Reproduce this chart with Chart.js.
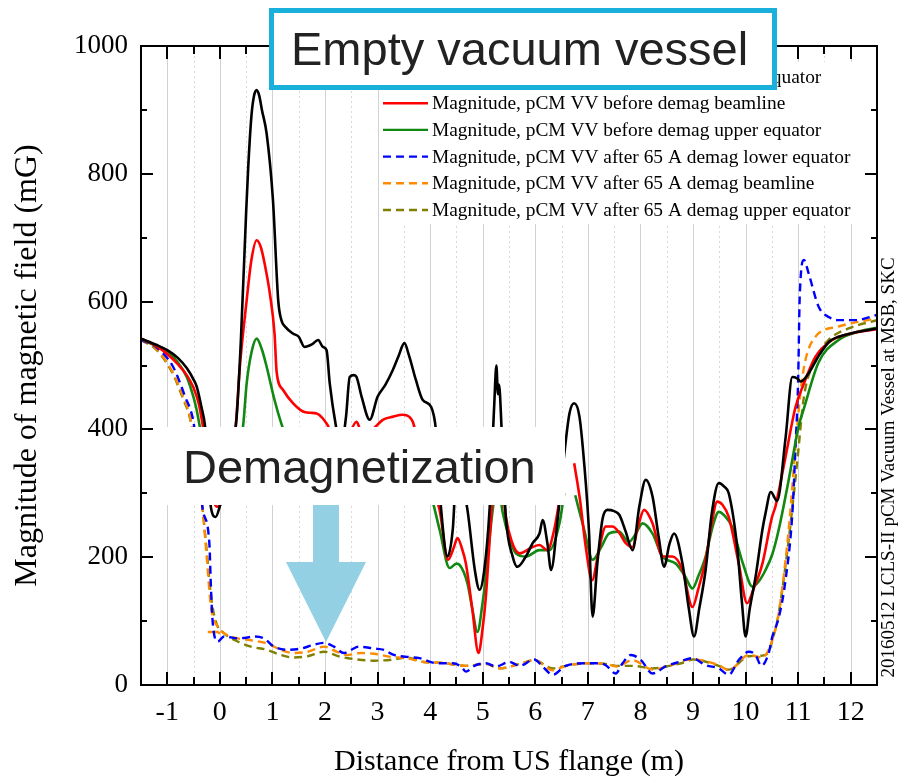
<!DOCTYPE html>
<html>
<head>
<meta charset="utf-8">
<title>pCM vacuum vessel magnetic field</title>
<script src="https://cdn.jsdelivr.net/npm/chart.js@4.4.1/dist/chart.umd.min.js"></script>
<style>
  html, body { margin: 0; padding: 0; background: #fff; }
  #wrap { position: relative; width: 899px; height: 781px; }
</style>
</head>
<body>
<div id="wrap"><canvas id="c" width="899" height="781"></canvas></div>
<script>
// ---- axis ticks ----
const xTickValues = [-1, 0, 1, 2, 3, 4, 5, 6, 7, 8, 9, 10, 11, 12];
const yTickValues = [0, 200, 400, 600, 800, 1000];

// ---- series labels ----
const seriesLabels = [
  'Magnitude, pCM VV before demag lower equator',
  'Magnitude, pCM VV before demag beamline',
  'Magnitude, pCM VV before demag upper equator',
  'Magnitude, pCM VV after 65 A demag lower equator',
  'Magnitude, pCM VV after 65 A demag beamline',
  'Magnitude, pCM VV after 65 A demag upper equator'
];

// ---- before demag, lower equator (m, mG) ----
const lowerBeforeX = [-1.5, -1.2, -1.0, -0.8, -0.63, -0.5, -0.44, -0.35, -0.28, -0.22, -0.17, -0.08, 0.0, 0.15, 0.25,
  0.32, 0.4, 0.5, 0.54, 0.6, 0.65, 0.7, 0.75, 0.8, 0.89, 1.01, 1.11, 1.17, 1.25, 1.39, 1.5, 1.61, 1.75, 1.87, 1.96,
  2.03, 2.09, 2.21, 2.3, 2.4, 2.47, 2.55, 2.6, 2.7, 2.85, 3.0, 3.15, 3.29, 3.4, 3.51, 3.6, 3.73, 3.86, 4.02, 4.11,
  4.21, 4.33, 4.43, 4.5, 4.6, 4.71, 4.85, 4.94, 5.03, 5.13, 5.22, 5.26, 5.29, 5.31, 5.36, 5.44, 5.57, 5.66,
  5.82, 5.95, 6.08, 6.14, 6.23, 6.3, 6.43, 6.55, 6.65, 6.74, 6.84, 6.93, 7.02, 7.09, 7.18, 7.28, 7.37, 7.5, 7.6,
  7.72, 7.85, 7.98, 8.1, 8.23, 8.35, 8.45, 8.55, 8.64, 8.8, 8.92, 9.02, 9.12, 9.24, 9.36, 9.49, 9.6, 9.68, 9.84,
  9.93, 10.0, 10.08, 10.19, 10.32, 10.38, 10.48, 10.6, 10.76, 10.89, 10.98, 11.05, 11.2, 11.39, 11.6, 11.77, 12.1, 12.5];
const lowerBeforeY = [542, 532, 524, 512, 496, 478, 467, 435, 404, 340, 278, 263, 280, 330, 370,
  420, 540, 740, 811, 890, 922, 931, 922, 900, 863, 759, 602, 571, 560, 550, 545, 529, 533, 540, 529,
  524, 472, 404, 370, 420, 482, 485, 482, 450, 415, 451, 470, 493, 515, 535, 515, 477, 446, 435, 399,
  274, 201, 243, 330, 320, 274, 180, 149, 180, 274, 440, 500, 455, 470, 400, 263, 201, 185,
  201, 222, 237, 258, 222, 180, 263, 360, 425, 441, 420, 347, 243, 107, 190, 260, 274, 272, 266,
  240, 211, 280, 321, 295, 230, 185, 220, 237, 190, 120, 76, 120, 180, 270, 316, 310, 300, 216,
  130, 76, 120, 169, 243, 269, 302, 288, 386, 482, 480, 475, 488, 515, 538, 545, 552, 558];

// ---- before demag, beamline ----
const beamBeforeX = [-1.5, -1.2, -1.0, -0.8, -0.63, -0.5, -0.4, -0.32, -0.2, -0.1, -0.05, 0.02, 0.15, 0.3, 0.38,
  0.51, 0.6, 0.7, 0.78, 0.85, 0.95, 1.04, 1.08, 1.2, 1.39, 1.58, 1.72, 1.84, 1.96, 2.09, 2.2, 2.4, 2.6, 2.7, 2.9,
  3.1, 3.3, 3.48, 3.6, 3.67, 3.8, 4.0, 4.18, 4.34, 4.45, 4.52, 4.6, 4.68, 4.8, 4.92, 5.0, 5.06, 5.16, 5.25, 5.35,
  5.44, 5.55, 5.7, 5.95, 6.08, 6.23, 6.36, 6.5, 6.62, 6.74, 6.85, 6.96, 7.08, 7.21, 7.34, 7.47, 7.6, 7.72, 7.85,
  7.96, 8.07, 8.23, 8.42, 8.61, 8.8, 8.99, 9.1, 9.24, 9.35, 9.46, 9.56, 9.68, 9.87, 10.03, 10.15, 10.32, 10.5,
  10.57, 10.76, 10.95, 11.1, 11.33, 11.65, 12.0, 12.5];
const beamBeforeY = [542, 530, 518, 502, 485, 465, 440, 404, 340, 285, 279, 284, 330, 404, 498,
  602, 665, 696, 685, 660, 613, 550, 490, 462, 441, 428, 426, 425, 417, 400, 370, 380, 412, 395, 400,
  415, 420, 423, 420, 412, 370, 320, 274, 196, 215, 230, 215, 190, 120, 50, 90, 138, 263, 360, 330,
  263, 225, 206, 216, 219, 211, 243, 310, null, 347, 290, 216, 164, 211, 248, 248, 238, 222, 216,
  250, 274, 253, 201, 201, 180, 122, 150, 196, 250, 287, 282, 263, 190, 128, 150, 190, 262,
  280, 357, 435, 470, 514, 540, 550, 557];

// ---- before demag, upper equator ----
const upperBeforeX = [-1.5, -1.2, -1.08, -0.8, -0.63, -0.5, -0.44, -0.38, -0.2, 0.0, 0.2, 0.35, 0.44, 0.51, 0.6,
  0.7, 0.8, 0.89, 1.04, 1.17, 1.3, 1.6, 1.9, 2.2, 2.5, 2.8, 3.2, 3.5, 3.8, 4.0, 4.18, 4.37, 4.5, 4.56, 4.71, 4.8,
  4.9, 5.0, 5.03, 5.19, 5.28, 5.38, 5.5, 5.63, 5.82, 6.08, 6.27, 6.46, 6.55, 6.65, 6.76, 6.93, 7.09, 7.25, 7.4,
  7.59, 7.78, 7.9, 8.04, 8.23, 8.42, 8.67, 8.85, 8.99, 9.1, 9.24, 9.38, 9.49, 9.6, 9.74, 9.95, 10.13, 10.25,
  10.38, 10.51, 10.63, 10.82, 11.01, 11.1, 11.39, 11.77, 12.1, 12.5];
const upperBeforeY = [542, 530, 527, 505, 482, 450, 430, 404, 330, 300, 340, 380, 404, 472, 520,
  542, 525, 498, 446, 409, 380, 360, 350, 320, 330, 320, 340, 345, 320, 300, 243, 183, 190, 188, 159, 120,
  83, 130, 149, 274, 320, 270, 232, 206, 201, 211, 211, 253, 300, null, 297, 243, 196, 215, 237,
  240, 224, 235, 253, 237, 201, 190, 170, 151, 170, 201, 250, 271, 265, 248, 190, 154, 162,
  180, 205, 243, 321, 405, 430, 505, 540, 552, 559];

// ---- after 65 A demag, lower equator ----
const lowerAfterX = [-1.5, -1.2, -0.89, -0.66, -0.51, -0.42, -0.33, -0.2, -0.17, -0.14, -0.04, 0.08, 0.34, 0.5,
  0.65, 0.84, 1.03, 1.29, 1.54, 1.79, 1.98, 2.17, 2.36, 2.5, 2.64, 2.93, 3.12, 3.31, 3.56, 3.8, 4.13, 4.43, 4.6,
  4.68, 4.84, 5.06, 5.25, 5.51, 5.7, 5.98, 6.14, 6.33, 6.58, 6.96, 7.21, 7.34, 7.53, 7.66, 7.82, 8.01, 8.23,
  8.48, 8.73, 8.99, 9.24, 9.49, 9.68, 9.87, 10.06, 10.19, 10.3, 10.44, 10.51, 10.63, 10.76, 10.89, 10.95, 11.0,
  11.03, 11.11, 11.2, 11.39, 11.6, 11.77, 12.09, 12.5];
const lowerAfterY = [540, 528, 498, 451, 415, 360, 277, 222, 154, 102, 68, 76, 73, 74,
  76, 73, 60, 55, 57, 63, 66, 60, 50, 55, 60, 57, 55, 47, 44, 42, 34, 34, 28,
  21, 30, 34, 29, 36, 30, 40, 29, 16, 30, 34, 34, 31, 18, 34, 47, 39, 18,
  29, 36, 42, 31, 26, 16, 39, 52, 47, 30, 50, 76, 105, 164, 269, 373, 477,
  608, 665, 644, 592, 575, 571, 571, 579];

// ---- after 65 A demag, beamline ----
const beamAfterX = [-1.5, -1.2, -0.9, -0.7, -0.57, -0.45, -0.33, -0.25, -0.17, -0.04, 0.08, 0.34, 0.59, 0.9, 1.16,
  1.41, 1.67, 1.98, 2.23, 2.42, 2.68, 2.93, 3.25, 3.56, 3.88, 4.18, 4.68, 5.06, 5.32, 5.7, 5.98, 6.33, 6.58, 6.96,
  7.34, 7.55, 7.85, 8.23, 8.55, 8.86, 8.99, 9.49, 9.68, 10.06, 10.32, 10.44, 10.51, 10.63, 10.82, 10.95, 11.05,
  11.14, 11.33, 11.77, 12.5];
const beamAfterY = [540, 525, 490, 451, 420, 360, 277, 200, 123, 91, 81, 73, 70, 65, 55,
  50, 52, 60, 52, 47, 50, 49, 44, 42, 36, 35, 30, 33, 26, 33, 39, 23, 30, 34,
  33, 29, 39, 24, 30, 39, 40, 31, 23, 47, 43, 55, 71, 112, 243, 373, 462,
  509, 545, 561, 574];
// short separate beamline trace near the flange
const beamAfterStubX = [-0.23, -0.04, 0.0];
const beamAfterStubY = [83, 83, 80];

// ---- after 65 A demag, upper equator ----
const upperAfterX = [-1.5, -1.2, -0.9, -0.7, -0.57, -0.45, -0.33, -0.25, -0.17, -0.08, 0.08, 0.34, 0.59, 0.9, 1.16,
  1.41, 1.67, 1.98, 2.3, 2.61, 2.93, 3.31, 3.56, 3.88, 4.18, 4.68, 5.06, 5.32, 5.7, 5.98, 6.33, 6.58, 6.96, 7.34,
  7.55, 7.85, 8.23, 8.55, 8.86, 8.99, 9.49, 9.68, 10.06, 10.32, 10.44, 10.51, 10.63, 10.82, 10.98, 11.11, 11.33,
  11.58, 11.96, 12.5];
const upperAfterY = [540, 524, 488, 448, 418, 360, 277, 210, 140, 100, 81, 68, 60, 55, 47,
  43, 45, 52, 44, 40, 38, 40, 43, 36, 35, 30, 33, 26, 33, 39, 26, 30, 34, 33,
  30, 30, 26, 30, 36, 40, 30, 24, 45, 46, 52, 70, 112, 227, 347, 451, 509,
  540, 558, 571];

const pts = (xs, ys) => xs.map((x, i) => ({ x: x, y: ys[i] }));

const SERIF = '"Liberation Serif", "Times New Roman", serif';
const SANS = '"Liberation Sans", Arial, sans-serif';
const DASH = [8, 5];

function line(label, xs, ys, color, dash, width) {
  return {
    label: label,
    data: pts(xs, ys),
    borderColor: color,
    backgroundColor: color,
    borderWidth: width,
    borderDash: dash,
    pointRadius: 0,
    pointHoverRadius: 0,
    fill: false,
    spanGaps: false,
    cubicInterpolationMode: 'monotone'
  };
}

const datasets = [
  line(seriesLabels[0], lowerBeforeX, lowerBeforeY, '#000000', [], 2.6),
  line(seriesLabels[1], beamBeforeX, beamBeforeY, '#ff0000', [], 2.6),
  line(seriesLabels[2], upperBeforeX, upperBeforeY, '#118811', [], 2.6),
  line(seriesLabels[3], lowerAfterX, lowerAfterY, '#0000ff', DASH, 2.4),
  line(seriesLabels[4], beamAfterX, beamAfterY, '#ff8c00', DASH, 2.4),
  line(seriesLabels[5], upperAfterX, upperAfterY, '#808000', DASH, 2.4)
];
const stub = line('', beamAfterStubX, beamAfterStubY, '#ff8c00', [], 2.4);
stub.cubicInterpolationMode = 'default';
stub.tension = 0;
stub.inLegend = false;
datasets.push(stub);

// grid, frame, inner ticks, legend, side note and callouts
const decor = {
  id: 'decor',
  beforeDatasetsDraw(chart) {
    const { ctx, chartArea: a, scales: { x } } = chart;
    ctx.save();
    ctx.lineWidth = 1;
    for (let v = -1; v <= 12.01; v += 0.5) {
      const px = Math.round(x.getPixelForValue(v)) + 0.5;
      const whole = Math.abs(v - Math.round(v)) < 1e-6;
      ctx.strokeStyle = whole ? '#d2d2d2' : '#d8d8d8';
      ctx.setLineDash(whole ? [] : [2, 3]);
      ctx.beginPath();
      ctx.moveTo(px, a.top);
      ctx.lineTo(px, a.bottom);
      ctx.stroke();
    }
    ctx.restore();
  },
  afterDraw(chart) {
    const { ctx, chartArea: a, scales: { x, y } } = chart;
    ctx.save();

    // legend
    ctx.fillStyle = '#ffffff';
    ctx.fillRect(380, 62, 490, 162);
    let row = 0;
    chart.data.datasets.forEach((ds) => {
      if (ds.inLegend === false) return;
      const ly = 76.5 + row * 26.7;
      ctx.strokeStyle = ds.borderColor;
      ctx.lineWidth = 2.4;
      ctx.setLineDash(ds.borderDash || []);
      ctx.beginPath();
      ctx.moveTo(383, ly);
      ctx.lineTo(428, ly);
      ctx.stroke();
      ctx.setLineDash([]);
      ctx.fillStyle = '#000';
      ctx.font = '19.4px ' + SERIF;
      ctx.textAlign = 'left';
      ctx.textBaseline = 'middle';
      ctx.fillText(ds.label, 432, ly + 1);
      row++;
    });

    // frame
    ctx.setLineDash([]);
    ctx.strokeStyle = '#000';
    ctx.lineWidth = 2;
    ctx.strokeRect(a.left, a.top, a.right - a.left, a.bottom - a.top);

    // inward ticks on all four sides
    ctx.lineWidth = 2;
    for (let v = -1; v <= 12.01; v += 0.5) {
      const px = Math.round(x.getPixelForValue(v));
      const whole = Math.abs(v - Math.round(v)) < 1e-6;
      const len = whole ? 13 : 8;
      ctx.beginPath();
      ctx.moveTo(px, a.bottom); ctx.lineTo(px, a.bottom - len);
      ctx.moveTo(px, a.top); ctx.lineTo(px, a.top + len);
      ctx.stroke();
    }
    for (let v = 100; v < 1000; v += 100) {
      const py = Math.round(y.getPixelForValue(v));
      const len = v % 200 === 0 ? 12 : 6;
      ctx.beginPath();
      ctx.moveTo(a.left, py); ctx.lineTo(a.left + len, py);
      ctx.moveTo(a.right, py); ctx.lineTo(a.right - len, py);
      ctx.stroke();
    }

    // side note
    ctx.save();
    ctx.translate(889, (a.top + a.bottom) / 2 + 102);
    ctx.rotate(-Math.PI / 2);
    ctx.fillStyle = '#000';
    ctx.font = '19px ' + SERIF;
    ctx.textAlign = 'center';
    ctx.textBaseline = 'middle';
    ctx.fillText('20160512 LCLS-II pCM Vacuum Vessel at MSB, SKC', 0, 0);
    ctx.restore();

    // "Empty vacuum vessel" callout
    ctx.fillStyle = '#ffffff';
    ctx.fillRect(271, 10, 504, 78);
    ctx.strokeStyle = '#19b0dc';
    ctx.lineWidth = 5;
    ctx.strokeRect(271.5, 10.5, 503, 77);
    ctx.fillStyle = '#222222';
    ctx.font = '47px ' + SANS;
    ctx.textAlign = 'left';
    ctx.textBaseline = 'alphabetic';
    ctx.fillText('Empty vacuum vessel', 291, 65);

    // "Demagnetization" callout with arrow
    ctx.fillStyle = '#ffffff';
    ctx.fillRect(155, 427, 410, 78);
    ctx.fillStyle = '#222222';
    ctx.fillText('Demagnetization', 183, 483);
    ctx.fillStyle = '#93d0e4';
    ctx.beginPath();
    ctx.moveTo(313, 505);
    ctx.lineTo(339, 505);
    ctx.lineTo(339, 562);
    ctx.lineTo(366, 562);
    ctx.lineTo(326, 642);
    ctx.lineTo(286, 562);
    ctx.lineTo(313, 562);
    ctx.closePath();
    ctx.fill();

    ctx.restore();
  }
};

new Chart(document.getElementById('c'), {
  type: 'line',
  data: { datasets: datasets },
  options: {
    responsive: false,
    animation: false,
    devicePixelRatio: 1,
    layout: { padding: { top: 46, right: 22, left: 0, bottom: 0 } },
    plugins: { legend: { display: false }, tooltip: { enabled: false } },
    events: [],
    scales: {
      x: {
        type: 'linear',
        min: -1.5,
        max: 12.5,
        afterBuildTicks: (s) => { s.ticks = xTickValues.map(v => ({ value: v })); },
        afterFit: (s) => { s.height = 96; },
        grid: { display: false, drawTicks: false },
        border: { display: false },
        ticks: {
          autoSkip: false,
          maxRotation: 0,
          color: '#000',
          padding: 11,
          font: { family: SERIF, size: 28, lineHeight: 1.2 },
          callback: (v) => String(v)
        },
        title: {
          display: true,
          text: 'Distance from US flange (m)',
          color: '#000',
          font: { family: SERIF, size: 30, lineHeight: 1 },
          padding: { top: 0, bottom: 4 }
        }
      },
      y: {
        type: 'linear',
        min: 0,
        max: 1000,
        afterBuildTicks: (s) => { s.ticks = yTickValues.map(v => ({ value: v })); },
        afterFit: (s) => { s.width = 141; },
        grid: { display: false, drawTicks: false },
        border: { display: false },
        ticks: {
          color: '#000',
          padding: 13,
          font: { family: SERIF, size: 27, lineHeight: 1.2 },
          callback: (v) => String(v)
        },
        title: {
          display: true,
          text: 'Magnitude of magnetic field (mG)',
          color: '#000',
          font: { family: SERIF, size: 32, lineHeight: 1 },
          padding: { top: 12, bottom: 0 }
        }
      }
    }
  },
  plugins: [decor]
});
</script>
</body>
</html>
